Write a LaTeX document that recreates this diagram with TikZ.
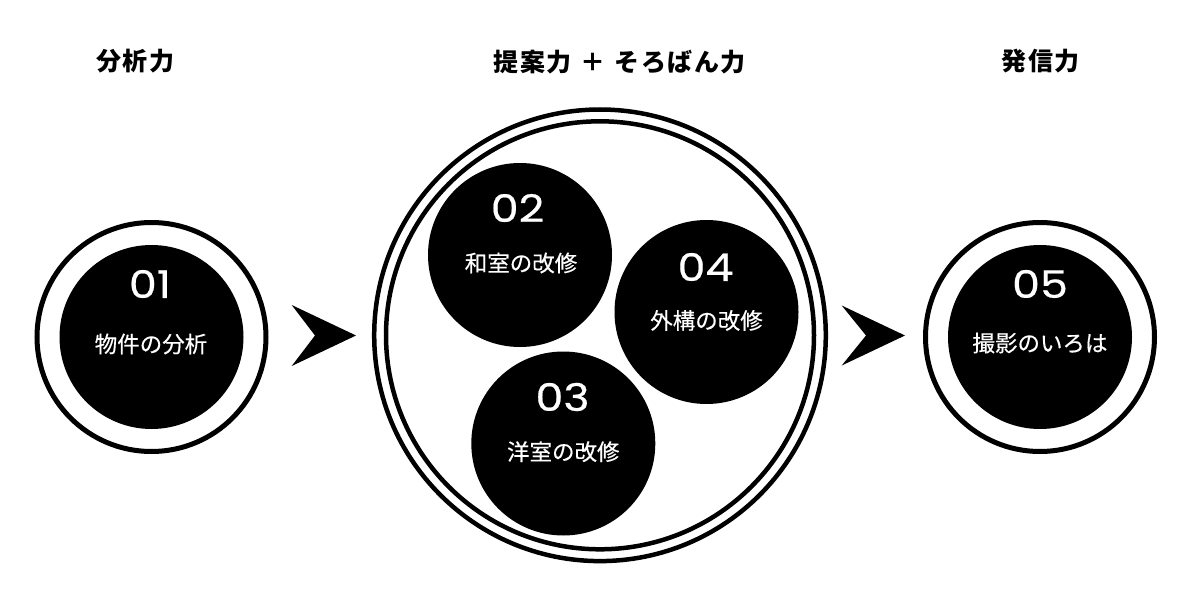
\documentclass[tikz,border=0pt]{standalone}
\usepackage{fontspec}
\setmainfont{Poppins}
\newfontfamily\numfont{Poppins}[FakeBold=0.5,FakeStretch=1.17]
\newfontfamily\jp{Noto Sans CJK JP}[FakeBold=0.4]
\newfontfamily\jph{Noto Sans CJK JP}[LetterSpace=6]
\begin{document}
\begin{tikzpicture}[x=1pt,y=-1pt,
  ring/.style={draw=black,line width=5pt},
  thinring/.style={draw=black,line width=4.5pt},
  disc/.style={circle,fill=black,inner sep=0pt,minimum size=184pt},
  num/.style={text=white,font=\numfont\fontsize{38}{40}\selectfont,inner sep=0pt},
  lbl/.style={text=white,font=\jp\fontsize{22.5}{24}\selectfont,inner sep=0pt},
  head/.style={text=black,font=\jph\bfseries\fontsize{25}{27}\selectfont,inner sep=0pt},
  chevron/.style={fill=black,draw=none}]
\useasboundingbox (0,0) rectangle (1200,602);
\fill[white] (0,0) rectangle (1200,602);

% headings
\node[head] (h1) at (135,61) {分析力};
\node[head] (h2) at (619.5,62) {提案力\hspace{9pt}＋\hspace{9pt}そろばん力};
\node[head] (h3) at (1040.5,61) {発信力};

% left circle 01
\coordinate (c1) at (151.5,337);
\draw[ring] (c1) circle (114.5pt);
\node[disc] (d1) at (c1) {};
\node[num] (n1) at (150,284) {01};
\node[lbl] (l1) at (151,344) {物件の分析};

% arrow 1
\coordinate (a1) at (291.7,305);
\coordinate (a1t) at (356,335.5);
\coordinate (a1b) at (291.7,366);
\coordinate (a1n) at (315,335.5);
\fill[chevron] (a1) -- (a1t) -- (a1b) -- (a1n) -- cycle;

% middle big circle
\coordinate (cm) at (600,335.3);
\draw[thinring] (cm) circle (225.8pt);
\draw[thinring] (cm) circle (214pt);
\node[disc] (d2) at (520,255) {};
\node[disc] (d4) at (706.5,312) {};
\node[disc] (d3) at (563.3,443.5) {};
\node[num] (n2) at (517.5,208) {02};
\node[lbl] (l2) at (521,263) {和室の改修};
\node[num] (n4) at (705.5,267) {04};
\node[lbl] (l4) at (706.5,320.5) {外構の改修};
\node[num] (n3) at (562.5,397) {03};
\node[lbl] (l3) at (563.3,451.7) {洋室の改修};

% arrow 2
\coordinate (a2) at (841.7,305.5);
\coordinate (a2t) at (905,335.5);
\coordinate (a2b) at (841.7,365.5);
\coordinate (a2n) at (866,335.5);
\fill[chevron] (a2) -- (a2t) -- (a2b) -- (a2n) -- cycle;

% right circle 05
\coordinate (c5) at (1040,337);
\draw[ring] (c5) circle (114.5pt);
\node[disc] (d5) at (c5) {};
\node[num] (n5) at (1040,284) {05};
\node[lbl] (l5) at (1040,343) {撮影のいろは};
\end{tikzpicture}
\end{document}
